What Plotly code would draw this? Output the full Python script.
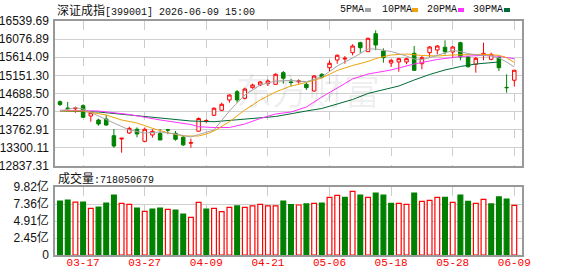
import plotly.graph_objects as go

# ---------------- data ----------------
dates = ["03-12", "03-13", "03-16", "03-17", "03-18", "03-19", "03-20", "03-23", "03-24", "03-25",
         "03-26", "03-27", "03-30", "03-31", "04-01", "04-02", "04-03", "04-07", "04-08", "04-09",
         "04-10", "04-13", "04-14", "04-15", "04-16", "04-17", "04-20", "04-21", "04-22", "04-23",
         "04-24", "04-27", "04-28", "04-29", "04-30", "05-06", "05-07", "05-08", "05-11", "05-12",
         "05-13", "05-14", "05-15", "05-18", "05-19", "05-20", "05-21", "05-22", "05-25", "05-26",
         "05-27", "05-28", "05-29", "06-01", "06-02", "06-03", "06-04", "06-05", "06-08", "06-09"]

open_ = [14479, 14318, 14300, 14377, 14114, 14012, 14037, 13611, 13527, 13680,
         13775, 13467, 13629, 13668, 13764, 13672, 13573, 13420, 13726, 13974,
         14132, 14260, 14523, 14734, 14566, 14837, 14906, 14939, 14923, 15220,
         14982, 14990, 14923, 14752, 15179, 15347, 15544, 15569, 15730, 15986,
         15756, 16215, 15774, 15467, 15493, 15493, 15715, 15449, 15730, 15799,
         15871, 15748, 15986, 15621, 15434, 15664, 15562, 15603, 14845, 15027]
high = [14510, 14475, 14351, 14413, 14216, 14045, 14140, 13782, 13547, 13841,
        13824, 13820, 13775, 13782, 13785, 13731, 13611, 13535, 14076, 14030,
        14336, 14454, 14668, 14778, 14837, 14939, 15008, 15041, 15204, 15263,
        15059, 15051, 14964, 15161, 15204, 15536, 15689, 15646, 15945, 16011,
        16113, 16302, 15843, 15562, 15603, 15603, 15901, 15646, 15901, 15927,
        16047, 15901, 16011, 15646, 15621, 15986, 15730, 15646, 15179, 15290]
low = [14369, 14245, 14195, 14063, 13968, 13866, 13866, 13305, 13177, 13655,
       13568, 13442, 13560, 13501, 13649, 13483, 13351, 13305, 13709, 13928,
       14114, 14242, 14454, 14454, 14540, 14811, 14872, 14880, 14913, 14939,
       14872, 14939, 14778, 14734, 15077, 15263, 15449, 15449, 15664, 15730,
       15748, 15792, 15475, 15365, 15245, 15434, 15263, 15306, 15621, 15689,
       15684, 15603, 15536, 15347, 15220, 15536, 15536, 15263, 14709, 14865]
close = [14408, 14305, 14316, 14081, 14198, 13910, 13884, 13348, 13545, 13798,
         13655, 13775, 13721, 13502, 13754, 13519, 13377, 13433, 14051, 13999,
         14311, 14413, 14650, 14523, 14803, 14906, 14982, 15008, 15179, 15077,
         14969, 15008, 14837, 15135, 15117, 15460, 15664, 15587, 15901, 15858,
         16098, 15927, 15603, 15536, 15577, 15577, 15281, 15603, 15876, 15901,
         15753, 15876, 15621, 15373, 15587, 15715, 15689, 15347, 14837, 15283]

# volume in 亿 (1e8) and direction (1 = up/red, 0 = down/green)
volume_yi = [7.80, 7.94, 7.65, 7.65, 6.74, 6.93, 7.51, 8.66, 7.46, 7.32,
             6.79, 6.31, 6.64, 6.79, 6.60, 6.50, 5.92, 5.44, 7.61, 6.64,
             6.74, 6.25, 6.89, 7.08, 6.89, 7.08, 7.32, 7.08, 7.08, 7.80,
             7.27, 7.22, 7.37, 7.46, 7.51, 8.33, 8.62, 8.33, 9.20, 8.66,
             8.33, 8.95, 8.66, 7.46, 7.46, 7.32, 8.95, 7.75, 7.89, 8.33,
             8.33, 7.61, 8.66, 7.75, 7.46, 8.04, 7.37, 8.38, 8.09, 7.18]
volume_up = [0, 0, 1, 0, 1, 0, 0, 0, 1, 1,
             0, 1, 0, 0, 1, 0, 0, 1, 1, 0,
             1, 1, 1, 0, 1, 1, 1, 1, 1, 0,
             0, 1, 0, 1, 0, 1, 1, 0, 1, 0,
             1, 0, 0, 0, 1, 1, 0, 1, 1, 1,
             0, 1, 0, 0, 1, 1, 0, 0, 0, 1]
last_volume = 718050679

# moving averages (index into dates, value)
ma5_idx = [0, 2, 3, 5, 7, 9, 11, 13, 15, 17, 18, 20, 22, 24, 26, 28, 30, 32, 34, 36, 38,
           40, 41, 43, 45, 46, 47, 48, 50, 51, 52, 53, 55, 56, 57, 58, 59]
ma5_val = [14242, 14326, 14293, 14114, 13922, 13757, 13680, 13705, 13654, 13578, 13642, 13757,
           14242, 14650, 14906, 15008, 15020, 14990, 15110, 15391, 15595,
           15825, 15825, 15761, 15646, 15569, 15557, 15603, 15723, 15786, 15761, 15705,
           15659, 15646, 15595, 15493, 15365]
ma10_idx = [0, 3, 6, 8, 10, 12, 14, 16, 18, 19, 20, 22, 24, 26, 28, 30, 32, 34, 36, 38,
            40, 41, 43, 45, 47, 49, 51, 53, 55, 57, 58, 59]
ma10_val = [14242, 14242, 14140, 14012, 13935, 13800, 13688, 13603, 13603, 13654, 13731, 13968,
            14267, 14523, 14727, 14880, 14969, 15084, 15276, 15403,
            15506, 15582, 15672, 15697, 15659, 15646, 15672, 15684, 15689, 15664, 15603, 15480]
ma20_idx = [0, 5, 9, 13, 17, 18, 20, 22, 24, 26, 28, 30, 32, 34, 36, 38, 40, 43, 46, 49,
            52, 55, 57, 59]
ma20_val = [14260, 14242, 14152, 14012, 13897, 13841, 13820, 13820, 13910, 14050, 14165, 14216,
            14344, 14599, 14829, 15059, 15186, 15289, 15442, 15557, 15633, 15664, 15638, 15577]
ma30_idx = [0, 5, 9, 13, 17, 20, 24, 28, 32, 34, 36, 38, 40, 42, 44, 46, 48, 50, 52, 54,
            56, 57]
ma30_val = [14242, 14216, 14140, 14063, 13986, 13968, 14037, 14101, 14242, 14306, 14420, 14535,
            14689, 14791, 14880, 15033, 15174, 15289, 15378, 15442, 15480, 15493]

price_ticks = [12837.31, 13300.11, 13762.91, 14225.70, 14688.50, 15151.30, 15614.09, 16076.89, 16539.69]
vol_ticks = [0, 2.45, 4.91, 7.36, 9.82]
vol_tick_text = ["0", "2.45亿", "4.91亿", "7.36亿", "9.82亿"]
label_dates = ["03-17", "03-27", "04-09", "04-21", "05-06", "05-18", "05-28", "06-09"]

ma_names = ["5PMA", "10PMA", "20PMA", "30PMA"]
ma_colors = ["#a6a6a6", "#f0a30a", "#ff33ff", "#006b36"]

# ---------------- figure ----------------
W, H = 578, 276
ML, MR, MT, MB = 55, 56, 21, 21
PW, PH = W - ML - MR, H - MT - MB


def px_x(px):
    return (px - ML) / PW


def px_y(py):
    return (H - MB - py) / PH


fig = go.Figure()

for idx, val, col in [(ma30_idx, ma30_val, ma_colors[3]), (ma20_idx, ma20_val, ma_colors[2]),
                      (ma10_idx, ma10_val, ma_colors[1]), (ma5_idx, ma5_val, ma_colors[0])]:
    fig.add_trace(go.Scatter(x=[dates[i] for i in idx], y=val, mode="lines",
                             line=dict(color=col, width=1), xaxis="x", yaxis="y",
                             hoverinfo="skip", showlegend=False))

fig.add_trace(go.Candlestick(
    x=dates, open=open_, high=high, low=low, close=close,
    increasing=dict(line=dict(color="#ff0000", width=1), fillcolor="#ffffff"),
    decreasing=dict(line=dict(color="#008000", width=1), fillcolor="#008000"),
    whiskerwidth=0, xaxis="x", yaxis="y", showlegend=False))

fig.add_trace(go.Bar(
    x=dates, y=volume_yi, width=0.62,
    marker=dict(color=["#ffffff" if u else "#008000" for u in volume_up],
                line=dict(color=["#ff0000" if u else "#008000" for u in volume_up], width=1.2)),
    xaxis="x2", yaxis="y2", showlegend=False))

axis_common = dict(showline=True, linecolor="#999999", linewidth=1.5, mirror=True,
                   zeroline=False, automargin=False)

fig.update_layout(
    template="none",
    width=W, height=H, autosize=False,
    margin=dict(l=ML, r=MR, t=MT, b=MB, pad=0),
    paper_bgcolor="#ffffff", plot_bgcolor="#ffffff",
    boxgap=0.35, bargap=0.3,
    xaxis=dict(type="category", categoryorder="array", categoryarray=dates,
               range=[-0.65, 60.0], anchor="y", domain=[0, 1],
               tickmode="array", tickvals=label_dates, showticklabels=False,
               showgrid=True, gridcolor="#cccccc", griddash="dash", gridwidth=1,
               rangeslider=dict(visible=False), ticks="", **axis_common),
    yaxis=dict(domain=[px_y(166), 1], range=[price_ticks[0], price_ticks[-1]],
               tickmode="array", tickvals=price_ticks, ticktext=[f"{v:.2f}" for v in price_ticks],
               showgrid=True, gridcolor="#d0d0d0", gridwidth=1, ticks="", ticklabelstandoff=2,
               tickfont=dict(family="Arial", size=12, color="#111111"), **axis_common),
    xaxis2=dict(type="category", categoryorder="array", categoryarray=dates,
                matches="x", range=[-0.65, 60.0], anchor="y2", domain=[0, 1],
                tickmode="array", tickvals=label_dates, ticktext=label_dates,
                showgrid=True, gridcolor="#cccccc", griddash="dash", gridwidth=1, ticks="",
                ticklabelstandoff=-4,
                tickfont=dict(family="Liberation Mono", size=11, color="#ff0000"), **axis_common),
    yaxis2=dict(domain=[0, px_y(187)], range=[0, 9.82],
                tickmode="array", tickvals=vol_ticks, ticktext=vol_tick_text,
                showgrid=True, gridcolor="#d0d0d0", gridwidth=1, ticks="", ticklabelstandoff=2,
                tickfont=dict(family="Arial, 'Noto Sans CJK SC'", size=12, color="#111111"),
                **axis_common),
)

mono = "Liberation Mono, 'Noto Sans CJK SC'"
cjk = "<span style=\"font-family:'Noto Sans CJK SC';font-size:12px\">{}</span>"

annotations = [
    dict(text=cjk.format("深证成指") + "[399001] 2026-06-09 15:00",
         x=px_x(55), y=px_y(10), xanchor="left", yanchor="middle"),
    dict(text=cjk.format("成交量") + f":{last_volume}",
         x=px_x(56), y=px_y(177), xanchor="left", yanchor="middle"),
    dict(text="东方财富", x=px_x(308), y=px_y(89), xanchor="center", yanchor="middle",
         font=dict(family="'Noto Sans CJK SC'", size=36, color="rgba(0,0,0,0.07)")),
]
legend_text_x = [338, 380, 425, 471]
legend_box_x = [365, 412, 458, 504]
shapes = []
for name, col, tx, bx in zip(ma_names, ma_colors, legend_text_x, legend_box_x):
    annotations.append(dict(text=name, x=px_x(tx), y=px_y(10), xanchor="left", yanchor="middle"))
    shapes.append(dict(type="rect", xref="paper", yref="paper",
                       x0=px_x(bx), x1=px_x(bx + 6), y0=px_y(12), y1=px_y(8),
                       fillcolor=col, line=dict(width=0)))

for a in annotations:
    a.setdefault("font", dict(family=mono, size=10, color="#111111"))
    a.update(xref="paper", yref="paper", showarrow=False)

fig.update_layout(annotations=annotations, shapes=shapes)

fig.write_html("out.html")
